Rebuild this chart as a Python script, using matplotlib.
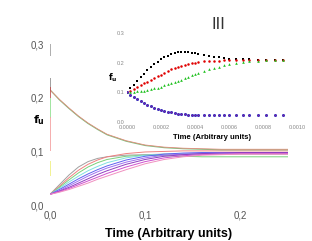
import numpy as np
import matplotlib
matplotlib.use("Agg")
import matplotlib.pyplot as plt

plt.rcParams['font.family'] = ['Liberation Sans', 'DejaVu Sans']

# --- main panel data ---
t_main = [0, 0.01, 0.02, 0.03, 0.04, 0.05, 0.06, 0.08, 0.10, 0.12, 0.14, 0.16, 0.18, 0.20, 0.22, 0.25]

decay_red = [0.215, 0.197, 0.181, 0.166, 0.153, 0.142, 0.132, 0.120, 0.112, 0.108, 0.106, 0.105, 0.104, 0.104, 0.104, 0.104]
decay_green = [0.215, 0.196, 0.180, 0.165, 0.152, 0.141, 0.131, 0.119, 0.111, 0.107, 0.105, 0.104, 0.103, 0.103, 0.103, 0.103]

rise_grey = [0.02, 0.038, 0.056, 0.071, 0.081, 0.087, 0.090, 0.093, 0.094, 0.095, 0.095, 0.095, 0.095, 0.095, 0.095, 0.095]
rise_red = [0.02, 0.035, 0.051, 0.065, 0.076, 0.084, 0.090, 0.096, 0.099, 0.100, 0.101, 0.101, 0.101, 0.101, 0.101, 0.101]
rise_green = [0.02, 0.033, 0.047, 0.060, 0.071, 0.079, 0.085, 0.091, 0.093, 0.092, 0.091, 0.090, 0.090, 0.090, 0.090, 0.090]
rise_cyan = [0.02, 0.031, 0.043, 0.054, 0.064, 0.072, 0.079, 0.088, 0.093, 0.095, 0.096, 0.096, 0.096, 0.096, 0.096, 0.096]
rise_blue = [0.02, 0.029, 0.039, 0.049, 0.058, 0.066, 0.073, 0.084, 0.091, 0.095, 0.097, 0.098, 0.098, 0.098, 0.098, 0.098]
rise_violet = [0.02, 0.027, 0.036, 0.045, 0.054, 0.062, 0.069, 0.080, 0.088, 0.093, 0.095, 0.096, 0.097, 0.097, 0.097, 0.097]
rise_purple = [0.02, 0.026, 0.033, 0.041, 0.049, 0.057, 0.064, 0.076, 0.085, 0.091, 0.094, 0.096, 0.097, 0.098, 0.098, 0.098]
rise_magenta = [0.02, 0.025, 0.031, 0.038, 0.045, 0.052, 0.059, 0.071, 0.081, 0.088, 0.092, 0.094, 0.095, 0.096, 0.096, 0.096]
rise_pink = [0.02, 0.024, 0.029, 0.035, 0.041, 0.048, 0.054, 0.066, 0.077, 0.085, 0.090, 0.093, 0.094, 0.095, 0.095, 0.095]

rise_series = [rise_grey, rise_red, rise_green, rise_cyan, rise_blue,
               rise_violet, rise_purple, rise_magenta, rise_pink]
rise_colors = ['#a0a0a0', '#f08080', '#7ad07a', '#80e0e0', '#6060f0',
               '#a070f0', '#9040c0', '#d050d0', '#f090c0']

# short vertical strokes at t = 0
spike_lo = [0.278, 0.213, 0.200, 0.163, 0.100, 0.055]
spike_hi = [0.300, 0.237, 0.220, 0.200, 0.165, 0.083]
spike_colors = ['#a0a0a0', '#909090', '#c05050', '#90e090', '#f4a0a0', '#f0f080']

# --- inset data ---
t_in = [0, 0.00002, 0.00004, 0.00006, 0.00008, 0.0001, 0.00012, 0.00014, 0.00016, 0.00018,
        0.0002, 0.00022, 0.00024, 0.00026, 0.00028, 0.0003, 0.00032, 0.00034, 0.00036, 0.00038,
        0.0004, 0.00042, 0.00045, 0.00048, 0.00051, 0.00054, 0.00057, 0.0006, 0.00064, 0.00068,
        0.00072, 0.00077, 0.00082, 0.00087, 0.00092]

in_black = [0.100, 0.113, 0.126, 0.139, 0.151, 0.163, 0.174, 0.184, 0.194, 0.203,
            0.211, 0.218, 0.224, 0.229, 0.233, 0.235, 0.236, 0.236, 0.235, 0.233,
            0.231, 0.229, 0.226, 0.223, 0.220, 0.218, 0.216, 0.214, 0.213, 0.212,
            0.211, 0.210, 0.210, 0.210, 0.210]
in_red = [0.100, 0.106, 0.112, 0.118, 0.124, 0.130, 0.136, 0.142, 0.148, 0.154,
          0.160, 0.166, 0.172, 0.177, 0.182, 0.186, 0.190, 0.193, 0.196, 0.198,
          0.200, 0.202, 0.204, 0.205, 0.206, 0.207, 0.208, 0.208, 0.209, 0.209,
          0.210, 0.210, 0.210, 0.210, 0.210]
in_green = [0.100, 0.101, 0.102, 0.103, 0.104, 0.106, 0.108, 0.110, 0.113, 0.116,
            0.119, 0.123, 0.127, 0.131, 0.135, 0.139, 0.143, 0.148, 0.152, 0.157,
            0.161, 0.165, 0.171, 0.177, 0.182, 0.187, 0.191, 0.195, 0.199, 0.202,
            0.205, 0.207, 0.209, 0.210, 0.210]
in_blue = [0.100, 0.092, 0.084, 0.077, 0.070, 0.064, 0.058, 0.053, 0.048, 0.044,
           0.040, 0.037, 0.034, 0.032, 0.030, 0.028, 0.027, 0.026, 0.025, 0.024,
           0.024, 0.023, 0.023, 0.023, 0.022, 0.022, 0.022, 0.022, 0.022, 0.022,
           0.022, 0.022, 0.022, 0.022, 0.022]

fig = plt.figure(figsize=(3.12, 2.41), dpi=100)

# main axes
ax = fig.add_axes([0.160, 0.149, 0.763, 0.668])
for vals, c in zip(rise_series, rise_colors):
    ax.plot(t_main, vals, color=c, linewidth=0.7)
ax.plot(t_main, decay_green, color='#80c080', linewidth=0.8)
ax.plot(t_main, decay_red, color='#e08a7a', linewidth=0.6)
ax.vlines([0] * len(spike_lo), spike_lo, spike_hi, colors=spike_colors, linewidth=1.2)

ax.set_xlim(0, 0.25)
ax.set_ylim(0, 0.3)
ax.set_xticks([0, 0.1, 0.2])
ax.set_xticklabels(['0,0', '0,1', '0,2'])
ax.set_yticks([0, 0.1, 0.2, 0.3])
ax.set_yticklabels(['0,0', '0,1', '0,2', '0,3'])
ax.tick_params(length=0, labelsize=7, labelcolor='#555555', pad=4)
for s in ax.spines.values():
    s.set_visible(False)
ax.set_xlabel('Time (Arbitrary units)', fontsize=9, fontweight='bold', labelpad=5)
fig.text(0.125, 0.50, r'$\mathbf{f}_{\mathbf{u}}$', fontsize=8, ha='center', va='center')

# inset
axi = fig.add_axes([0.407, 0.494, 0.545, 0.369])
axi.plot(t_in, in_black, 's', color='black', markersize=1.6, markeredgewidth=0)
axi.plot(t_in, in_red, 'o', color='#e00000', markersize=1.8, markeredgewidth=0)
axi.plot(t_in, in_green, '^', color='#20c020', markersize=1.9, markeredgewidth=0)
axi.plot(t_in, in_blue, 'o', color='#3030c0', markersize=2.2, markeredgewidth=0)
axi.plot(t_in, in_blue, 'o', color='#8020a0', markersize=1.2, markeredgewidth=0)
axi.set_xlim(0, 0.0010)
axi.set_ylim(0, 0.3)
axi.set_xticks([0, 0.0002, 0.0004, 0.0006, 0.0008, 0.0010])
axi.set_xticklabels(['0.0000', '0.0002', '0.0004', '0.0006', '0.0008', '0.0010'])
axi.set_yticks([0, 0.1, 0.2, 0.3])
axi.set_yticklabels(['0.0', '0.1', '0.2', '0.3'])
axi.tick_params(length=0, labelsize=4, labelcolor='#888888', pad=2)
axi.patch.set_alpha(0)
for s in axi.spines.values():
    s.set_visible(False)
axi.set_xlabel('Time (Arbitrary units)', fontsize=5.5, fontweight='bold', labelpad=3)
fig.text(0.362, 0.676, r'$\mathbf{f}_{\mathbf{u}}$', fontsize=6, ha='center', va='center')
fig.text(0.699, 0.897, 'III', fontsize=12, color='#333333', ha='center', va='center')

fig.savefig('out.png', dpi=100)
